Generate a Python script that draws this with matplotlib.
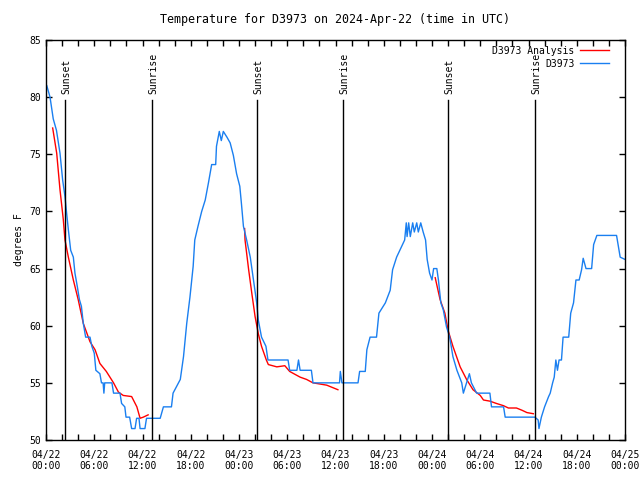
import numpy as np
import matplotlib
matplotlib.use('Agg')
import matplotlib.pyplot as plt

# station readings (hours since 2024-04-22 00:00 UTC, deg F)
obs_h = [0.1, 0.5, 0.9, 1.3, 1.74, 2.07, 2.36, 2.57, 2.78, 3.07, 3.4, 3.6, 3.9, 4.15, 4.4, 4.64,
         4.93, 5.47, 5.7, 6.0, 6.2, 6.7, 6.9, 7.1, 7.2, 7.3, 8.2, 8.4, 9.2, 9.4, 9.8, 9.95, 10.4,
         10.65, 11.07, 11.27, 11.56, 11.7, 12.3, 12.5, 14.2, 14.6, 15.6, 15.8, 16.25, 16.7, 17.1,
         17.5, 17.9, 18.3, 18.5, 18.9, 19.36, 19.8, 20.2, 20.6, 21.1, 21.2, 21.55, 21.8, 22.05,
         22.5, 22.9, 23.3, 23.7, 24.1, 24.3, 24.55, 24.95, 25.4, 25.8, 26.2, 26.4, 26.8, 27.35,
         27.6, 30.1, 30.3, 31.2, 31.4, 31.6, 33.0, 33.2, 36.5, 36.6, 36.8, 38.8, 39.0, 39.7, 39.9,
         40.3, 41.1, 41.4, 42.2, 42.8, 43.1, 43.6, 44.2, 44.6, 44.8, 44.9, 45.1, 45.3, 45.6, 45.8,
         46.1, 46.3, 46.6, 46.9, 47.2, 47.4, 47.7, 48.0, 48.2, 48.6, 48.8, 49.1, 49.4, 49.8, 50.2,
         50.6, 51.1, 51.7, 51.9, 52.3, 52.65, 52.9, 53.55, 55.2, 55.4, 56.9, 57.1, 60.8, 61.2,
         61.3, 61.6, 62.0, 62.5, 62.7, 63.0, 63.2, 63.4, 63.6, 63.8, 64.1, 64.3, 65.0, 65.25,
         65.6, 65.9, 66.3, 66.6, 66.8, 67.15, 67.85, 68.1, 68.5, 70.95, 71.4, 72.0]
obs_t = [81.0, 80.0, 78.1, 77.1, 75.1, 72.75, 71.3, 69.8, 68.4, 66.6, 66.0, 64.6, 63.4, 62.3, 61.7, 60.2,
         59.0, 59.0, 58.2, 57.6, 56.1, 55.8, 55.0, 55.0, 54.1, 55.0, 55.0, 54.1, 54.1, 53.2, 52.9, 52.0, 52.0,
         51.0, 51.0, 51.9, 51.9, 51.0, 51.0, 51.9, 51.9, 52.9, 52.9, 54.1, 54.7, 55.3, 57.3,
         60.2, 62.5, 65.2, 67.5, 68.7, 70.0, 71.0, 72.5, 74.1, 74.1, 75.7, 77.0, 76.2, 77.0,
         76.5, 76.0, 74.9, 73.3, 72.2, 70.7, 68.7, 67.5, 66.0, 64.0, 62.0, 60.5, 59.0, 58.2,
         57.0, 57.0, 56.1, 56.1, 57.0, 56.1, 56.1, 55.0, 55.0, 56.0, 55.0, 55.0, 56.0, 56.0, 57.9,
         59.0, 59.0, 61.1, 62.0, 63.1, 64.9, 66.0, 66.9, 67.5, 69.0, 67.8, 69.0, 67.8, 69.0, 68.2,
         69.0, 68.2, 69.0, 68.2, 67.5, 65.8, 64.6, 64.0, 65.0, 65.0, 64.0, 62.0, 61.4, 59.9, 59.0,
         57.3, 56.1, 55.0, 54.1, 55.0, 55.8, 55.0, 54.1, 54.1, 52.9, 52.9, 52.0, 52.0, 51.75,
         51.0, 52.0, 52.9, 53.8, 54.1, 55.0, 55.5, 57.0, 56.1, 57.0, 57.0, 59.0, 59.0, 61.1,
         62.0, 64.0, 64.0, 64.9, 65.9, 65.0, 65.0, 67.1, 67.9, 67.9, 66.0, 65.8]

# analysis curve, three nightly pieces (nan = gap)
ana_h = [0.83, 1.33, 1.74, 2.15, 2.36, 2.78, 3.4, 4.0, 4.64, 5.47, 6.1, 6.7, 7.5, 8.4, 9.0, 9.6,
         10.65, 11.3, 11.7, 12.1, 12.7, np.nan,
         24.7, 24.75, 25.2, 25.6, 26.0, 26.4, 26.8, 27.4, 27.65, 28.7, 29.7, 30.3, 31.6, 32.4,
         33.2, 34.9, 36.3, np.nan,
         48.4, 49.0, 49.6, 50.0, 50.6, 51.5, 52.3, 53.1, 54.0, 54.4, 55.2, 56.0, 56.9, 57.5,
         58.5, 59.2, 59.8, 60.6]
ana_t = [77.3, 75.1, 71.9, 69.3, 67.5, 66.0, 64.0, 62.3, 60.2, 58.6, 57.9, 56.7, 56.0, 55.0, 54.2, 53.9,
         53.8, 52.9, 51.9, 52.0, 52.2, np.nan,
         68.5, 67.5, 64.9, 62.8, 60.8, 59.3, 58.2, 57.0, 56.6, 56.4, 56.5, 56.0, 55.5, 55.3,
         55.0, 54.8, 54.4, np.nan,
         64.2, 62.3, 61.1, 59.6, 58.2, 56.4, 55.3, 54.4, 53.9, 53.5, 53.4, 53.2, 53.0, 52.8,
         52.8, 52.6, 52.4, 52.3]

sun_h = [2.36, 13.2, 26.2, 36.9, 50.0, 60.8]
sun_lbl = ['Sunset', 'Sunrise', 'Sunset', 'Sunrise', 'Sunset', 'Sunrise']

xtick_h = list(range(0, 73, 6))
xtick_lbl = ['04/22\n00:00', '04/22\n06:00', '04/22\n12:00', '04/22\n18:00',
             '04/23\n00:00', '04/23\n06:00', '04/23\n12:00', '04/23\n18:00',
             '04/24\n00:00', '04/24\n06:00', '04/24\n12:00', '04/24\n18:00',
             '04/25\n00:00']

plt.rcParams['font.family'] = ['DejaVu Sans Mono']
plt.rcParams['font.size'] = 7

fig = plt.figure(figsize=(6.4, 4.8), dpi=100)
ax = fig.add_axes([46 / 640, 40 / 480, 579 / 640, 400 / 480])

ax.plot(ana_h, ana_t, color='#ff0000', lw=1, label='D3973 Analysis')
ax.plot(obs_h, obs_t, color='#1a7ff0', lw=1, label='D3973')

for h, s in zip(sun_h, sun_lbl):
    ax.plot([h, h], [50, 79.75], color='black', lw=1)
    ax.text(h + 0.15, 80.3, s, rotation=90, ha='center', va='bottom')

ax.set_xlim(0, 72)
ax.set_ylim(50, 85)
ax.set_xticks(xtick_h)
ax.set_xticklabels(xtick_lbl)
ax.set_xticks(range(0, 73, 2), minor=True)
ax.set_yticks(range(50, 86, 5))
ax.tick_params(which='both', direction='in', top=True, right=True, length=4, width=1)
ax.tick_params(axis='x', pad=7)
for sp in ax.spines.values():
    sp.set_linewidth(1)

ax.set_ylabel('degrees F')
ax.set_title('Temperature for D3973 on 2024-Apr-22 (time in UTC)', pad=12)

ax.legend(loc='upper right', frameon=False, markerfirst=False, handlelength=3,
          borderaxespad=0.2, labelspacing=0.3, handletextpad=0.6,
          bbox_to_anchor=(0.983, 1.0))

fig.savefig('out.png', dpi=100)
